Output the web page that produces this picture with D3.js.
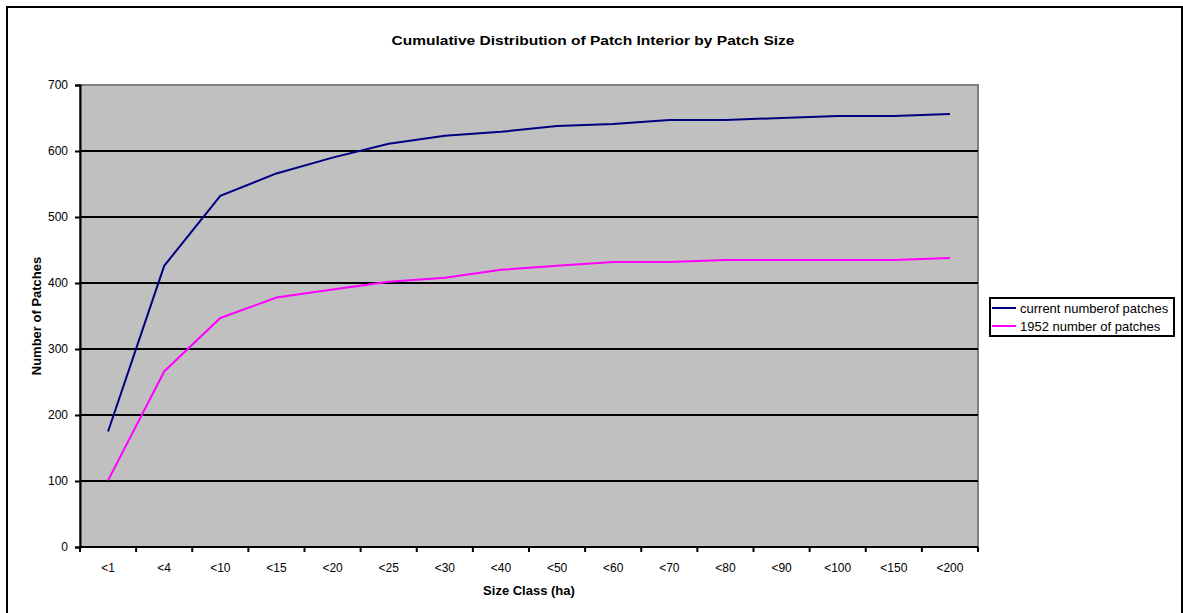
<!DOCTYPE html>
<html>
<head>
<meta charset="utf-8">
<script src="https://cdn.jsdelivr.net/npm/d3@7"></script>
<style>
  html, body { margin: 0; padding: 0; background: #fff; }
  svg { display: block; font-family: Arial, "Liberation Sans", sans-serif; }
</style>
</head>
<body>
<svg id="chart" width="1183" height="613"></svg>
<script>
// Size classes (ha)
const sizeClasses = ["<1", "<4", "<10", "<15", "<20", "<25", "<30", "<40", "<50", "<60", "<70", "<80", "<90", "<100", "<150", "<200"];
// Cumulative patch counts
const currentPatches = [175, 426, 532, 566, 590, 611, 623, 629, 638, 641, 647, 647, 650, 653, 653, 656];
const patches1952 = [101, 266, 347, 378, 390, 402, 408, 420, 426, 432, 432, 435, 435, 435, 435, 438];
const yTicks = [0, 100, 200, 300, 400, 500, 600, 700];
const seriesNames = ["current numberof patches", "1952 number of patches"];
const seriesColors = ["#000080", "#FF00FF"];

const svg = d3.select("#chart");
const plot = { left: 80, top: 85, right: 978, bottom: 547 };

// outer chart frame
svg.append("rect")
  .attr("x", 7).attr("y", 7).attr("width", 1175).attr("height", 620)
  .attr("fill", "#fff").attr("stroke", "#000").attr("stroke-width", 2);

const x = d3.scaleBand().domain(sizeClasses).range([plot.left, plot.right]).paddingInner(0).paddingOuter(0);
const y = d3.scaleLinear().domain([0, 700]).range([plot.bottom, plot.top]);

// plot area
svg.append("rect")
  .attr("x", plot.left).attr("y", plot.top)
  .attr("width", plot.right - plot.left).attr("height", plot.bottom - plot.top)
  .attr("fill", "#C0C0C0").attr("stroke", "#808080").attr("stroke-width", 2);

// gridlines
svg.append("g")
  .selectAll("line")
  .data(yTicks.filter(d => d > 0 && d < 700))
  .join("line")
  .attr("x1", plot.left).attr("x2", plot.right)
  .attr("y1", d => y(d)).attr("y2", d => y(d))
  .attr("stroke", "#000").attr("stroke-width", 2);

// y axis
const yAxis = svg.append("g")
  .attr("transform", `translate(${plot.left},0)`)
  .call(d3.axisLeft(y).tickValues(yTicks).tickSize(5).tickPadding(7));
yAxis.select(".domain").attr("stroke", "#000").attr("stroke-width", 2);
yAxis.selectAll(".tick line").attr("stroke", "#000").attr("stroke-width", 2);
yAxis.selectAll(".tick text").attr("font-size", "12px").attr("fill", "#000")
  .attr("font-family", "Arial, 'Liberation Sans', sans-serif");

// x axis: ticks at category boundaries, labels centred
const xAxisG = svg.append("g").attr("transform", `translate(0,${plot.bottom})`);
xAxisG.append("line")
  .attr("x1", plot.left).attr("x2", plot.right)
  .attr("y1", 0).attr("y2", 0)
  .attr("stroke", "#000").attr("stroke-width", 2);
const boundaries = sizeClasses.map(d => x(d)).concat([x(sizeClasses[sizeClasses.length - 1]) + x.bandwidth()]);
xAxisG.selectAll("line.tk")
  .data(boundaries)
  .join("line")
  .attr("class", "tk")
  .attr("x1", d => d).attr("x2", d => d)
  .attr("y1", 0).attr("y2", 5)
  .attr("stroke", "#000").attr("stroke-width", 2);
xAxisG.selectAll("text")
  .data(sizeClasses)
  .join("text")
  .attr("x", d => x(d) + x.bandwidth() / 2)
  .attr("y", 25)
  .attr("text-anchor", "middle")
  .attr("font-size", "12px")
  .attr("fill", "#000")
  .text(d => d);

// lines
const line = d3.line()
  .x((d, i) => x(sizeClasses[i]) + x.bandwidth() / 2)
  .y(d => y(d));
[currentPatches, patches1952].forEach((vals, k) => {
  svg.append("path")
    .datum(vals)
    .attr("d", line)
    .attr("fill", "none")
    .attr("stroke", seriesColors[k])
    .attr("stroke-width", 2);
});

// title
svg.append("text")
  .attr("x", 593).attr("y", 45)
  .attr("text-anchor", "middle")
  .attr("font-size", "13px").attr("font-weight", "bold")
  .attr("textLength", 403).attr("lengthAdjust", "spacingAndGlyphs")
  .text("Cumulative Distribution of Patch Interior by Patch Size");

// axis titles
svg.append("text")
  .attr("x", 529).attr("y", 595)
  .attr("text-anchor", "middle")
  .attr("font-size", "13px").attr("font-weight", "bold")
  .text("Size Class (ha)");
svg.append("text")
  .attr("transform", `translate(41,${(plot.top + plot.bottom) / 2}) rotate(-90)`)
  .attr("text-anchor", "middle")
  .attr("font-size", "13px").attr("font-weight", "bold")
  .text("Number of Patches");

// legend
const lg = svg.append("g");
lg.append("rect")
  .attr("x", 990).attr("y", 298).attr("width", 184).attr("height", 38)
  .attr("fill", "#fff").attr("stroke", "#000").attr("stroke-width", 2);
seriesNames.forEach((name, i) => {
  const yy = 308 + i * 18;
  lg.append("line")
    .attr("x1", 992).attr("x2", 1016)
    .attr("y1", yy).attr("y2", yy)
    .attr("stroke", seriesColors[i]).attr("stroke-width", 2);
  lg.append("text")
    .attr("x", 1020).attr("y", yy + 4.5)
    .attr("font-size", "13px")
    .text(name);
});
</script>
</body>
</html>
